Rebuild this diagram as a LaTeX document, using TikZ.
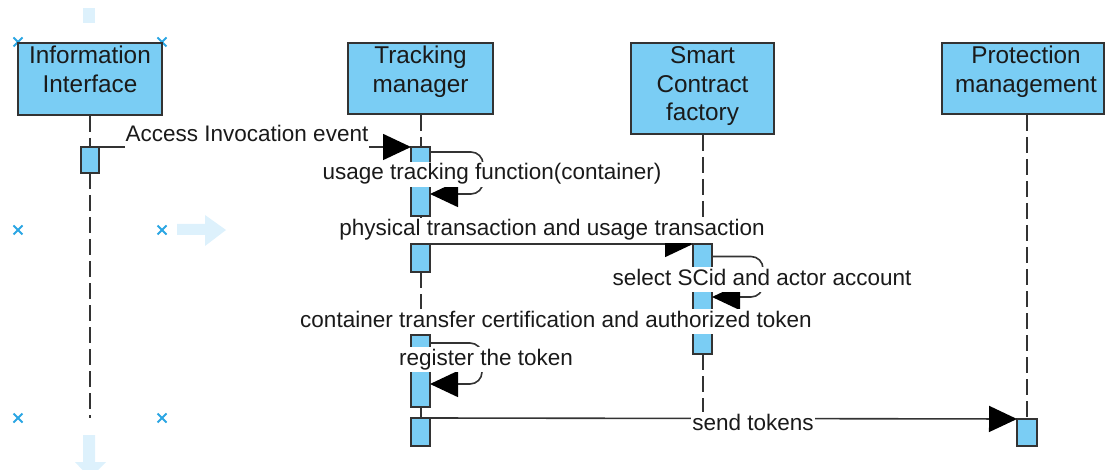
\documentclass[tikz,border=0pt]{standalone}
\usepackage{fontspec}
\setmainfont{Liberation Sans}
\usepackage{tikz}
\usetikzlibrary{
  arrows.meta,
  positioning,
  calc
}
\definecolor{SeqText}{HTML}{1A1A1A}
\definecolor{SeqLine}{HTML}{333333}
\definecolor{SeqFill}{HTML}{7ACDF4}
\definecolor{SeqHandle}{HTML}{2BA6E3}
\definecolor{SeqGhost}{HTML}{DDF1FC}

\begin{document}
\begin{tikzpicture}[
x=1pt, y=-1pt,
font=\fontsize{22.5}{28.5}\selectfont,
>={Triangle[length=28pt, width=26pt, color=black]},
actor/.style={
draw=SeqLine,
line width=2pt,
fill=SeqFill,
anchor=north,
inner sep=0pt
},
actortext/.style={anchor=north, align=center, inner sep=0pt, text=SeqText,
font=\fontsize{24.3}{28.5}\selectfont},
bar/.style={
draw=SeqLine,
line width=2pt,
fill=SeqFill,
anchor=north,
minimum width=17pt,
inner sep=0pt
},
lifeline/.style={draw=SeqLine, line width=2pt, dash pattern=on 16pt off 6pt},
msg/.style={->, draw=SeqLine, line width=1.6pt},
msgtext/.style={fill=white, anchor=base, inner xsep=1pt, inner ysep=2pt,
text height=16pt, text depth=5pt, text=SeqText},
handle/.style={draw=SeqHandle, line width=1.8pt},
ghost/.style={fill=SeqGhost}
]
\useasboundingbox (0,0) rectangle (1105,470);

% Selection handles (faint)
\fill[ghost] (83,8) rectangle (95,23);
\fill[ghost] (177,224) -- (205,224) -- (205,215) -- (226,230) -- (205,246)
  -- (205,235) -- (177,235) -- cycle;
\fill[ghost] (83,435) -- (95,435) -- (95,462) -- (106,462) -- (90,478)
  -- (75,462) -- (83,462) -- cycle;
\foreach \p in {(18,42),(162,42),(18,230),(162,230),(18,418),(162,418)}
  \draw[handle] \p ++(-4.5,-4.5) -- ++(9,9) ++(0,-9) -- ++(-9,9);

% Actors
\node[actor, minimum width=144pt, minimum height=72pt] (info) at (90,42) {};
\node[actortext] (infotxt) at ($(info.north)+(0,4)$) {Information\\Interface};

\node[actor, minimum width=145pt, minimum height=71pt] (track) at (420.5,42) {};
\node[actortext] (tracktxt) at ($(track.north)+(0,4)$) {Tracking\\manager};

\node[actor, minimum width=143pt, minimum height=91pt] (sc) at (702.5,42) {};
\node[actortext] (sctxt) at ($(sc.north)+(0,4.5)$) {Smart\\Contract\\factory};

\node[actor, minimum width=162pt, minimum height=71pt] (prot) at (1023,42) {};
\node[actortext] (prottxt) at ($(prot.north)+(3,4)$) {Protection\\management};

% Activation bars
\node[bar, minimum width=16pt, minimum height=24pt] (a1) at (90,147) {};
\node[bar, minimum height=67pt] (a2) at (420.5,147) {};
\node[bar, minimum height=26pt] (a3) at (420.5,244) {};
\node[bar, minimum height=108pt] (a4) at (702.5,244) {};
\node[bar, minimum height=70pt] (a5) at (420.5,335) {};
\node[bar, minimum height=26pt] (a6) at (420.5,418) {};
\node[bar, minimum width=18pt, minimum height=25pt] (a7) at (1027,419) {};

\coordinate (infoend) at (90,418);
\coordinate (scend) at (702.5,425);

% Lifelines
\draw[lifeline] (info.south) -- (a1.north);
\draw[lifeline] (a1.south) -- (infoend);
\draw[lifeline] (track.south) -- (a2.north);
\draw[lifeline] (a2.south) -- (a3.north);
\draw[lifeline] (a3.south) -- (a5.north);
\draw[lifeline] (a5.south) -- (a6.north);
\draw[lifeline] (sc.south) -- (a4.north);
\draw[lifeline] (a4.south) -- (scend);
\draw[lifeline] (a7.north |- prot.south) -- (a7.north);

% Bars again on top of the lifelines
\foreach \b in {a1,a2,a3,a4,a5,a6,a7}
  \draw[draw=SeqLine, line width=2pt, fill=SeqFill] (\b.north west) rectangle (\b.south east);

% Messages
\draw[msg] (a1.north east) -- (a2.north west);
\draw[msg, rounded corners=12pt] ($(a2.north east)+(0,5)$) -- ++(53,0) -- ++(0,42)
  -- ($(a2.north east)+(0,47)$);
\draw[msg] (a3.north east) -- (a4.north west);
\draw[msg, rounded corners=12pt] ($(a4.north east)+(0,12.5)$) -- ++(51,0) -- ++(0,40.5)
  -- ($(a4.north east)+(0,53)$);
\draw[msg, rounded corners=12pt] ($(a5.north east)+(0,8)$) -- ++(52,0) -- ++(0,41)
  -- ($(a5.north east)+(0,49)$);
\draw[msg] (a6.north east) -- (a7.north west);

% Message labels
\node[msgtext] (l1) at (247,142) {Access Invocation event};
\node[msgtext] (l2) at (492,180) {usage tracking function(container)};
\node[msgtext] (l3) at (552,236) {physical transaction and usage transaction};
\node[msgtext] (l4) at (762,285) {select SCid and actor account};
\node[msgtext] (l5) at (556,327) {container transfer certification and authorized token};
\node[msgtext] (l6) at (486,365) {register the token};
\node[msgtext] (l7) at (753,430) {send tokens};

\end{tikzpicture}
\end{document}
